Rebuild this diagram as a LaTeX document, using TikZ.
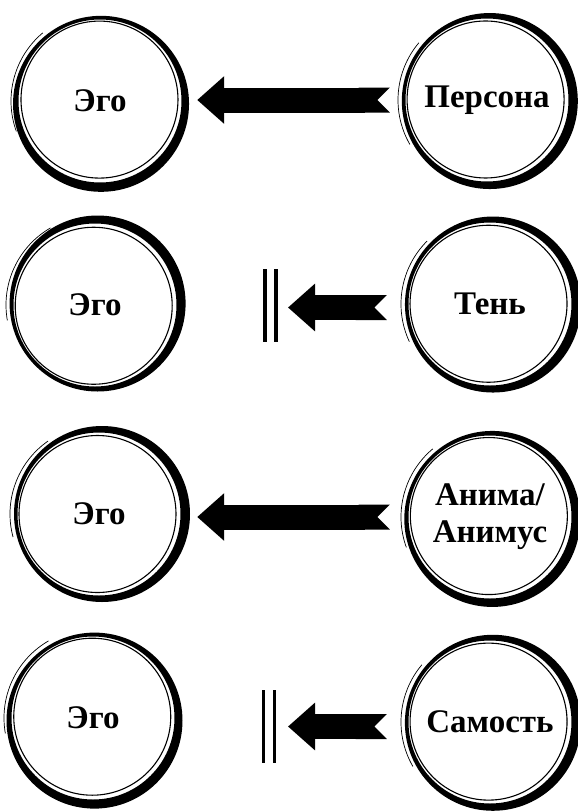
\documentclass[tikz,border=0pt]{standalone}
\usepackage{fontspec}
\setmainfont{Liberation Serif}
\usetikzlibrary{arrows.meta,calc}

\tikzset{
  soul/.style={circle, minimum size=176pt, inner sep=0pt, align=center,
    font=\bfseries\fontsize{33}{37}\selectfont},
  flow/.style={line width=25pt, {Triangle Cap[reversed]}-{Triangle[length=27pt,width=46pt]}},
  wall/.style={line width=3.4pt, double distance=7.4pt},
}

\begin{document}
\begin{tikzpicture}[x=1pt,y=-1pt]
  \useasboundingbox (0,0) rectangle (578,812);
  % ego on the left
  \node[soul] (e1) at (100,101) {Эго};
  \node[soul] (e2) at (95,305) {Эго};
  \node[soul] (e3) at (99,514) {Эго};
  \node[soul] (e4) at (93,718) {Эго};
  % archetypes on the right
  \node[soul] (p1) at (487,100) {Персона};
  \node[soul] (t2) at (490,304) {Тень};
  \node[soul] (a3) at (490,517) {Анима/\\Анимус};
  \node[soul] (s4) at (490,722) {Самость};

  % brush rings
  \foreach \n/\a/\b in {e1/-70/130,p1/-20/140,e2/30/120,t2/-10/135,
                        e3/0/125,a3/-40/130,e4/-60/120,s4/-15/140} {
    \fill[even odd rule] ($(\n.center)+(\a:3pt)$) circle (88pt) (\n.center) circle (81.5pt);
    \draw[line width=1.1pt] ($(\n.center)+(\a+180:1.5pt)$) circle (78.5pt);
    \draw[line width=0.7pt] ($(\n.center)+(\b:89pt)$) arc[start angle=\b, end angle=\b+70, radius=89pt];
  }

  % walls
  \coordinate (w2) at (270.5,305.5);
  \coordinate (w4) at (269,726.5);
  \draw[wall] ($(w2)+(0,-36.5)$) -- ($(w2)+(0,36.5)$);
  \draw[wall] ($(w4)+(0,-36.5)$) -- ($(w4)+(0,36.5)$);

  % arrows
  \draw[flow] ($(p1.west)+(-9,0)$) -- ($(e1.east)+(9,-1)$);
  \draw[flow] ($(t2.west)+(-15,3.5)$) -- ($(w2)+(17.5,2)$);
  \draw[flow] ($(a3.west)+(-12,0)$) -- ($(e3.east)+(10,3)$);
  \draw[flow] ($(s4.west)+(-15,4.5)$) -- ($(w4)+(19,0)$);
\end{tikzpicture}
\end{document}
